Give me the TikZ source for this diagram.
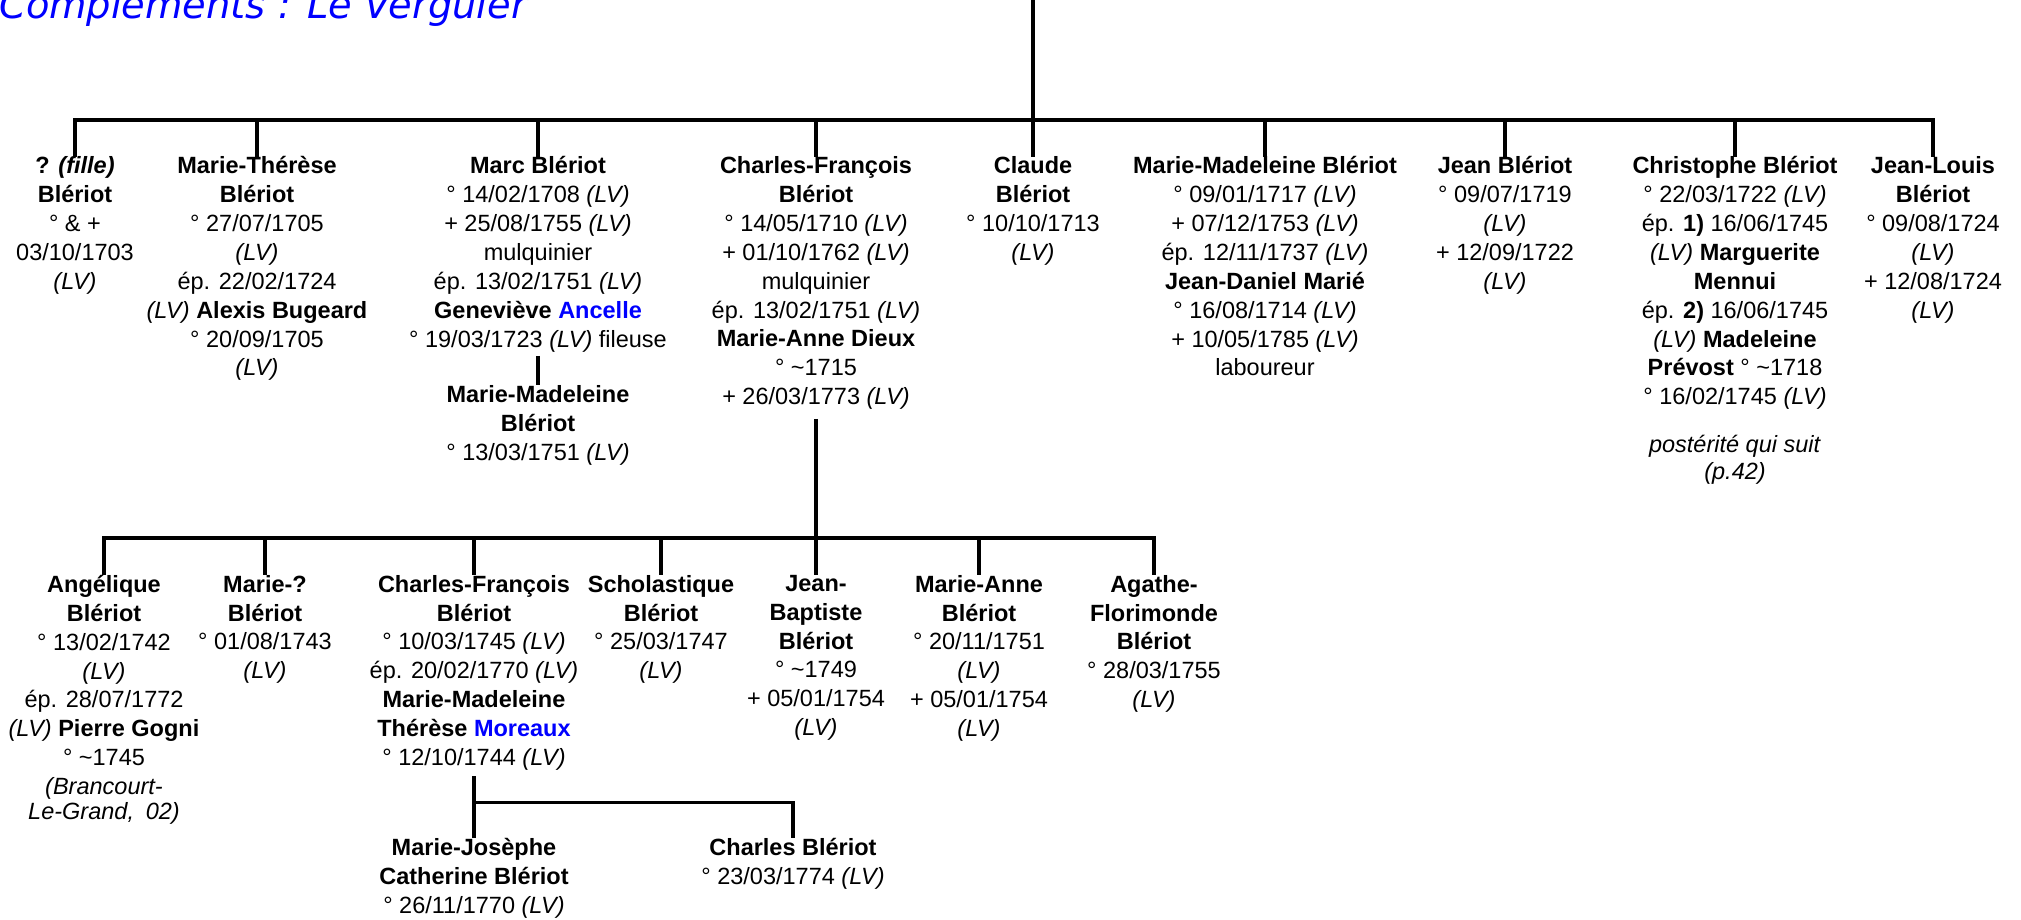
\documentclass[tikz,border=0pt]{standalone}
\usepackage{fontspec}
\setmainfont{Liberation Sans}
\newfontfamily\titlefont{DejaVu Sans}
\newcommand\LV{\textit{(LV)}}
\begin{document}
\begin{tikzpicture}[x=1pt,y=-1pt,
  person/.style={align=center, inner sep=0pt, anchor=north,
    font=\fontsize{23.5}{28.86}\selectfont,
    execute at begin node=\strut, execute at end node=\strut},
  titlest/.style={anchor=base west, inner sep=0pt, text=blue,
    font=\titlefont\itshape\fontsize{38.4}{40}\selectfont},
  link/.style={line width=3.2pt, draw=black, line join=miter}]
\useasboundingbox (0,0) rectangle (2021,919);
\node[titlest] (title) at (-1,18) {Compléments : Le Verguier};

% generation 1
\node[person] (p1) at (75,156.5) {\textbf{? \textit{(fille)}}\\\textbf{Blériot}\\° \& +\\03/10/1703\\\LV};
\node[person] (p2) at (257,156.5) {\textbf{Marie-Thérèse}\\\textbf{Blériot}\\° 27/07/1705\\\LV\\ép. 22/02/1724\\\LV{} \textbf{Alexis Bugeard}\\° 20/09/1705\\\LV};
\node[person] (p3) at (538,156.5) {\textbf{Marc Blériot}\\° 14/02/1708 \LV\\+ 25/08/1755 \LV\\mulquinier\\ép. 13/02/1751 \LV\\\textbf{Geneviève \textcolor{blue}{Ancelle}}\\° 19/03/1723 \LV{} fileuse};
\node[person] (mm) at (538,385.3) {\textbf{Marie-Madeleine}\\\textbf{Blériot}\\° 13/03/1751 \LV};
\node[person] (p4) at (816,156.5) {\textbf{Charles-François}\\\textbf{Blériot}\\° 14/05/1710 \LV\\+ 01/10/1762 \LV\\mulquinier\\ép. 13/02/1751 \LV\\\textbf{Marie-Anne Dieux}\\° \textasciitilde1715\\+ 26/03/1773 \LV};
\node[person] (p5) at (1033,156.5) {\textbf{Claude}\\\textbf{Blériot}\\° 10/10/1713\\\LV};
\node[person] (p6) at (1265,156.5) {\textbf{Marie-Madeleine Blériot}\\° 09/01/1717 \LV\\+ 07/12/1753 \LV\\ép. 12/11/1737 \LV\\\textbf{Jean-Daniel Marié}\\° 16/08/1714 \LV\\+ 10/05/1785 \LV\\laboureur};
\node[person] (p7) at (1505,156.5) {\textbf{Jean Blériot}\\° 09/07/1719\\\LV\\+ 12/09/1722\\\LV};
\node[person] (p8) at (1735,156.5) {\textbf{Christophe Blériot}\\° 22/03/1722 \LV\\ép. \textbf{1)} 16/06/1745\\\LV{} \textbf{Marguerite}\\\textbf{Mennui}\\ép. \textbf{2)} 16/06/1745\\\LV{} \textbf{Madeleine}\\\textbf{Prévost} ° \textasciitilde1718\\° 16/02/1745 \LV\\[19pt]\textit{postérité qui suit}\\[-2pt]\textit{(p.42)}};
\node[person] (p9) at (1933,156.5) {\textbf{Jean-Louis}\\\textbf{Blériot}\\° 09/08/1724\\\LV\\+ 12/08/1724\\\LV};

% generation 2
\node[person] (c1) at (104,575) {\textbf{Angélique}\\\textbf{Blériot}\\° 13/02/1742\\\LV\\ép. 28/07/1772\\\LV{} \textbf{Pierre Gogni}\\° \textasciitilde1745\\\textit{(Brancourt-}\\[-4pt]\textit{Le-Grand,\enspace 02)}};
\node[person] (c2) at (265,575) {\textbf{Marie-?}\\\textbf{Blériot}\\° 01/08/1743\\\LV};
\node[person] (c3) at (474,575) {\textbf{Charles-François}\\\textbf{Blériot}\\° 10/03/1745 \LV\\ép. 20/02/1770 \LV\\\textbf{Marie-Madeleine}\\\textbf{Thérèse \textcolor{blue}{Moreaux}}\\° 12/10/1744 \LV};
\node[person] (c4) at (661,575) {\textbf{Scholastique}\\\textbf{Blériot}\\° 25/03/1747\\\LV};
\node[person] (c5) at (816,575) {\textbf{Jean-}\\\textbf{Baptiste}\\\textbf{Blériot}\\° \textasciitilde1749\\+ 05/01/1754\\\LV};
\node[person] (c6) at (979,575) {\textbf{Marie-Anne}\\\textbf{Blériot}\\° 20/11/1751\\\LV\\+ 05/01/1754\\\LV};
\node[person] (c7) at (1154,575) {\textbf{Agathe-}\\\textbf{Florimonde}\\\textbf{Blériot}\\° 28/03/1755\\\LV};

% generation 3
\node[person] (g1) at (474,838) {\textbf{Marie-Josèphe}\\\textbf{Catherine Blériot}\\° 26/11/1770 \LV};
\node[person] (g2) at (793,838) {\textbf{Charles Blériot}\\° 23/03/1774 \LV};

% connectors
\coordinate (root) at (1033,0);
\coordinate (bar1) at (1033,120);
\coordinate (bar2) at (816,538);
\coordinate (bar3) at (474,802.7);
\draw[link] (root) -- (bar1);
\draw[link] (p1.north) -- (p1.north |- bar1) -- (p9.north |- bar1) -- (p9.north);
\foreach \n in {p2,p3,p4,p5,p6,p7,p8} \draw[link] (\n.north |- bar1) -- (\n.north);
\draw[link] (p3.south) -- (mm.north);
\draw[link] ([yshift=-5.5pt]p4.south) -- (c5.north);
\draw[link] (c1.north) -- (c1.north |- bar2) -- (c7.north |- bar2) -- (c7.north);
\foreach \n in {c2,c3,c4,c6} \draw[link] (\n.north |- bar2) -- (\n.north);
\draw[link] ([yshift=-2pt]c3.south) -- (g1.north);
\draw[link] (bar3) -- (g2.north |- bar3) -- (g2.north);
\end{tikzpicture}
\end{document}
